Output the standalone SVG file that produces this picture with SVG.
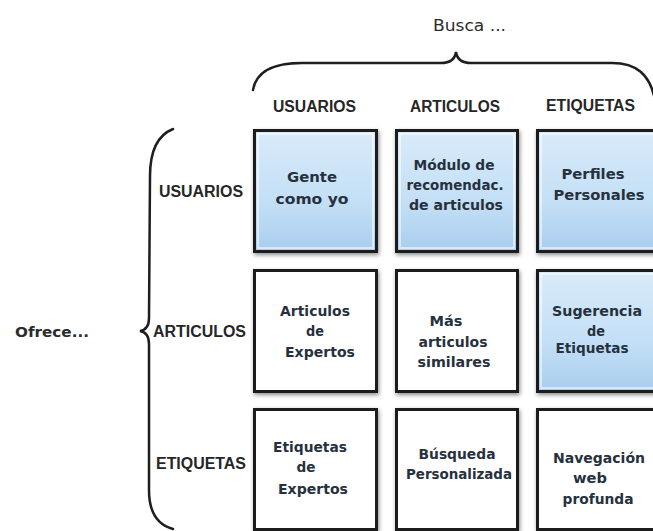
<svg xmlns="http://www.w3.org/2000/svg" width="653" height="531" viewBox="0 0 653 531">
<style>
.lbl{font-family:"Liberation Sans",Arial,sans-serif;font-weight:bold;font-size:16px;fill:#262626;text-anchor:middle}
.cap{font-family:"DejaVu Sans",Verdana,sans-serif;font-size:16px;fill:#2b2b2b;text-anchor:middle}
.cell{font-family:"DejaVu Sans",Verdana,sans-serif;font-weight:bold;font-size:14px;fill:#27313d;text-anchor:middle}
.box{stroke:#1c1c1c;stroke-width:3;filter:url(#sh)}
.blue{fill:url(#bg)}
.white{fill:#ffffff}
.inner{fill:none;stroke:#ffffff;stroke-opacity:0.55;stroke-width:2}
.brace{fill:none;stroke:#1e1e1e;stroke-width:2.5;stroke-linecap:round}
</style>
<defs>
<linearGradient id="bg" x1="0" y1="0" x2="0" y2="1">
<stop offset="0" stop-color="#d9ebfa"/>
<stop offset="0.6" stop-color="#c3dff6"/>
<stop offset="1" stop-color="#a9cdee"/>
</linearGradient>
<filter id="sh" x="-10%" y="-10%" width="125%" height="125%">
<feDropShadow dx="1" dy="2" stdDeviation="2" flood-color="#000" flood-opacity="0.45"/>
</filter>
</defs>
<rect width="653" height="531" fill="#ffffff"/>

<g id="braces">
<path class="brace" d="M253,90 C256,72 272,63 302,63 L441,63 C450,63 455,59 456,52 C457,59 462,63 471,63 L612,63 C636,63 650,74 655,100"/>
<path class="brace" d="M173,129 C158,135 150,150 150,176 L149,318 C149,326 146,330 140,331 C146,332 149,336 149,344 L149,490 C149,512 158,525 173,529"/>
</g>

<g id="labels">
<text class="cap" x="469.5" y="31" textLength="73" lengthAdjust="spacingAndGlyphs">Busca ...</text>
<text class="lbl" x="314.5" y="112" textLength="83" lengthAdjust="spacingAndGlyphs">USUARIOS</text>
<text class="lbl" x="455" y="112" textLength="90" lengthAdjust="spacingAndGlyphs">ARTICULOS</text>
<text class="lbl" x="590.5" y="111" textLength="89" lengthAdjust="spacingAndGlyphs">ETIQUETAS</text>
<text class="lbl" x="201" y="197" textLength="84" lengthAdjust="spacingAndGlyphs">USUARIOS</text>
<text class="lbl" x="199.5" y="337" textLength="93" lengthAdjust="spacingAndGlyphs">ARTICULOS</text>
<text class="lbl" x="201" y="469" textLength="90" lengthAdjust="spacingAndGlyphs">ETIQUETAS</text>
<text class="cell" x="52" y="337" textLength="74" lengthAdjust="spacingAndGlyphs" style="fill:#2b2b2b">Ofrece...</text>
</g>

<g id="n11">
<rect class="box blue" x="254.5" y="130.5" width="122" height="121"/>
<rect class="inner" x="258" y="134" width="115" height="114"/>
<text class="cell" x="312" y="182" textLength="50" lengthAdjust="spacingAndGlyphs">Gente</text>
<text class="cell" x="312" y="204" textLength="73" lengthAdjust="spacingAndGlyphs">como yo</text>
</g>
<g id="n12">
<rect class="box blue" x="396.5" y="130.5" width="121" height="121"/>
<rect class="inner" x="400" y="134" width="114" height="114"/>
<text class="cell" x="454" y="170" textLength="81" lengthAdjust="spacingAndGlyphs">Módulo de</text>
<text class="cell" x="455" y="190" textLength="97" lengthAdjust="spacingAndGlyphs">recomendac.</text>
<text class="cell" x="456" y="210" textLength="94" lengthAdjust="spacingAndGlyphs">de articulos</text>
</g>
<g id="n13">
<rect class="box blue" x="537.5" y="130.5" width="122" height="121"/>
<rect class="inner" x="541" y="134" width="115" height="114"/>
<text class="cell" x="593" y="179" textLength="63" lengthAdjust="spacingAndGlyphs">Perfiles</text>
<text class="cell" x="599" y="200" textLength="91" lengthAdjust="spacingAndGlyphs">Personales</text>
</g>

<g id="n21">
<rect class="box white" x="254.5" y="270.5" width="122" height="121"/>
<text class="cell" x="315" y="316" textLength="70" lengthAdjust="spacingAndGlyphs">Articulos</text>
<text class="cell" x="315" y="336" textLength="18" lengthAdjust="spacingAndGlyphs">de</text>
<text class="cell" x="320" y="357" textLength="70" lengthAdjust="spacingAndGlyphs">Expertos</text>
</g>
<g id="n22">
<rect class="box white" x="396.5" y="270.5" width="121" height="121"/>
<text class="cell" x="446" y="326" textLength="33" lengthAdjust="spacingAndGlyphs">Más</text>
<text class="cell" x="453" y="347" textLength="69" lengthAdjust="spacingAndGlyphs">articulos</text>
<text class="cell" x="454" y="367" textLength="73" lengthAdjust="spacingAndGlyphs">similares</text>
</g>
<g id="n23">
<rect class="box blue" x="537.5" y="270.5" width="122" height="121"/>
<rect class="inner" x="541" y="274" width="115" height="114"/>
<text class="cell" x="597" y="316" textLength="90" lengthAdjust="spacingAndGlyphs">Sugerencia</text>
<text class="cell" x="596" y="336" textLength="18" lengthAdjust="spacingAndGlyphs">de</text>
<text class="cell" x="592" y="353" textLength="73" lengthAdjust="spacingAndGlyphs">Etiquetas</text>
</g>

<g id="n31">
<rect class="box white" x="254.5" y="409.5" width="122" height="120"/>
<text class="cell" x="310" y="452" textLength="74" lengthAdjust="spacingAndGlyphs">Etiquetas</text>
<text class="cell" x="306" y="472" textLength="19" lengthAdjust="spacingAndGlyphs">de</text>
<text class="cell" x="313" y="494" textLength="70" lengthAdjust="spacingAndGlyphs">Expertos</text>
</g>
<g id="n32">
<rect class="box white" x="396.5" y="409.5" width="121" height="120"/>
<text class="cell" x="457" y="459" textLength="77" lengthAdjust="spacingAndGlyphs">Búsqueda</text>
<text class="cell" x="459" y="479" textLength="106" lengthAdjust="spacingAndGlyphs">Personalizada</text>
</g>
<g id="n33">
<rect class="box white" x="537.5" y="409.5" width="122" height="120"/>
<text class="cell" x="599" y="463" textLength="92" lengthAdjust="spacingAndGlyphs">Navegación</text>
<text class="cell" x="590" y="483" textLength="34" lengthAdjust="spacingAndGlyphs">web</text>
<text class="cell" x="598" y="504" textLength="71" lengthAdjust="spacingAndGlyphs">profunda</text>
</g>
</svg>
